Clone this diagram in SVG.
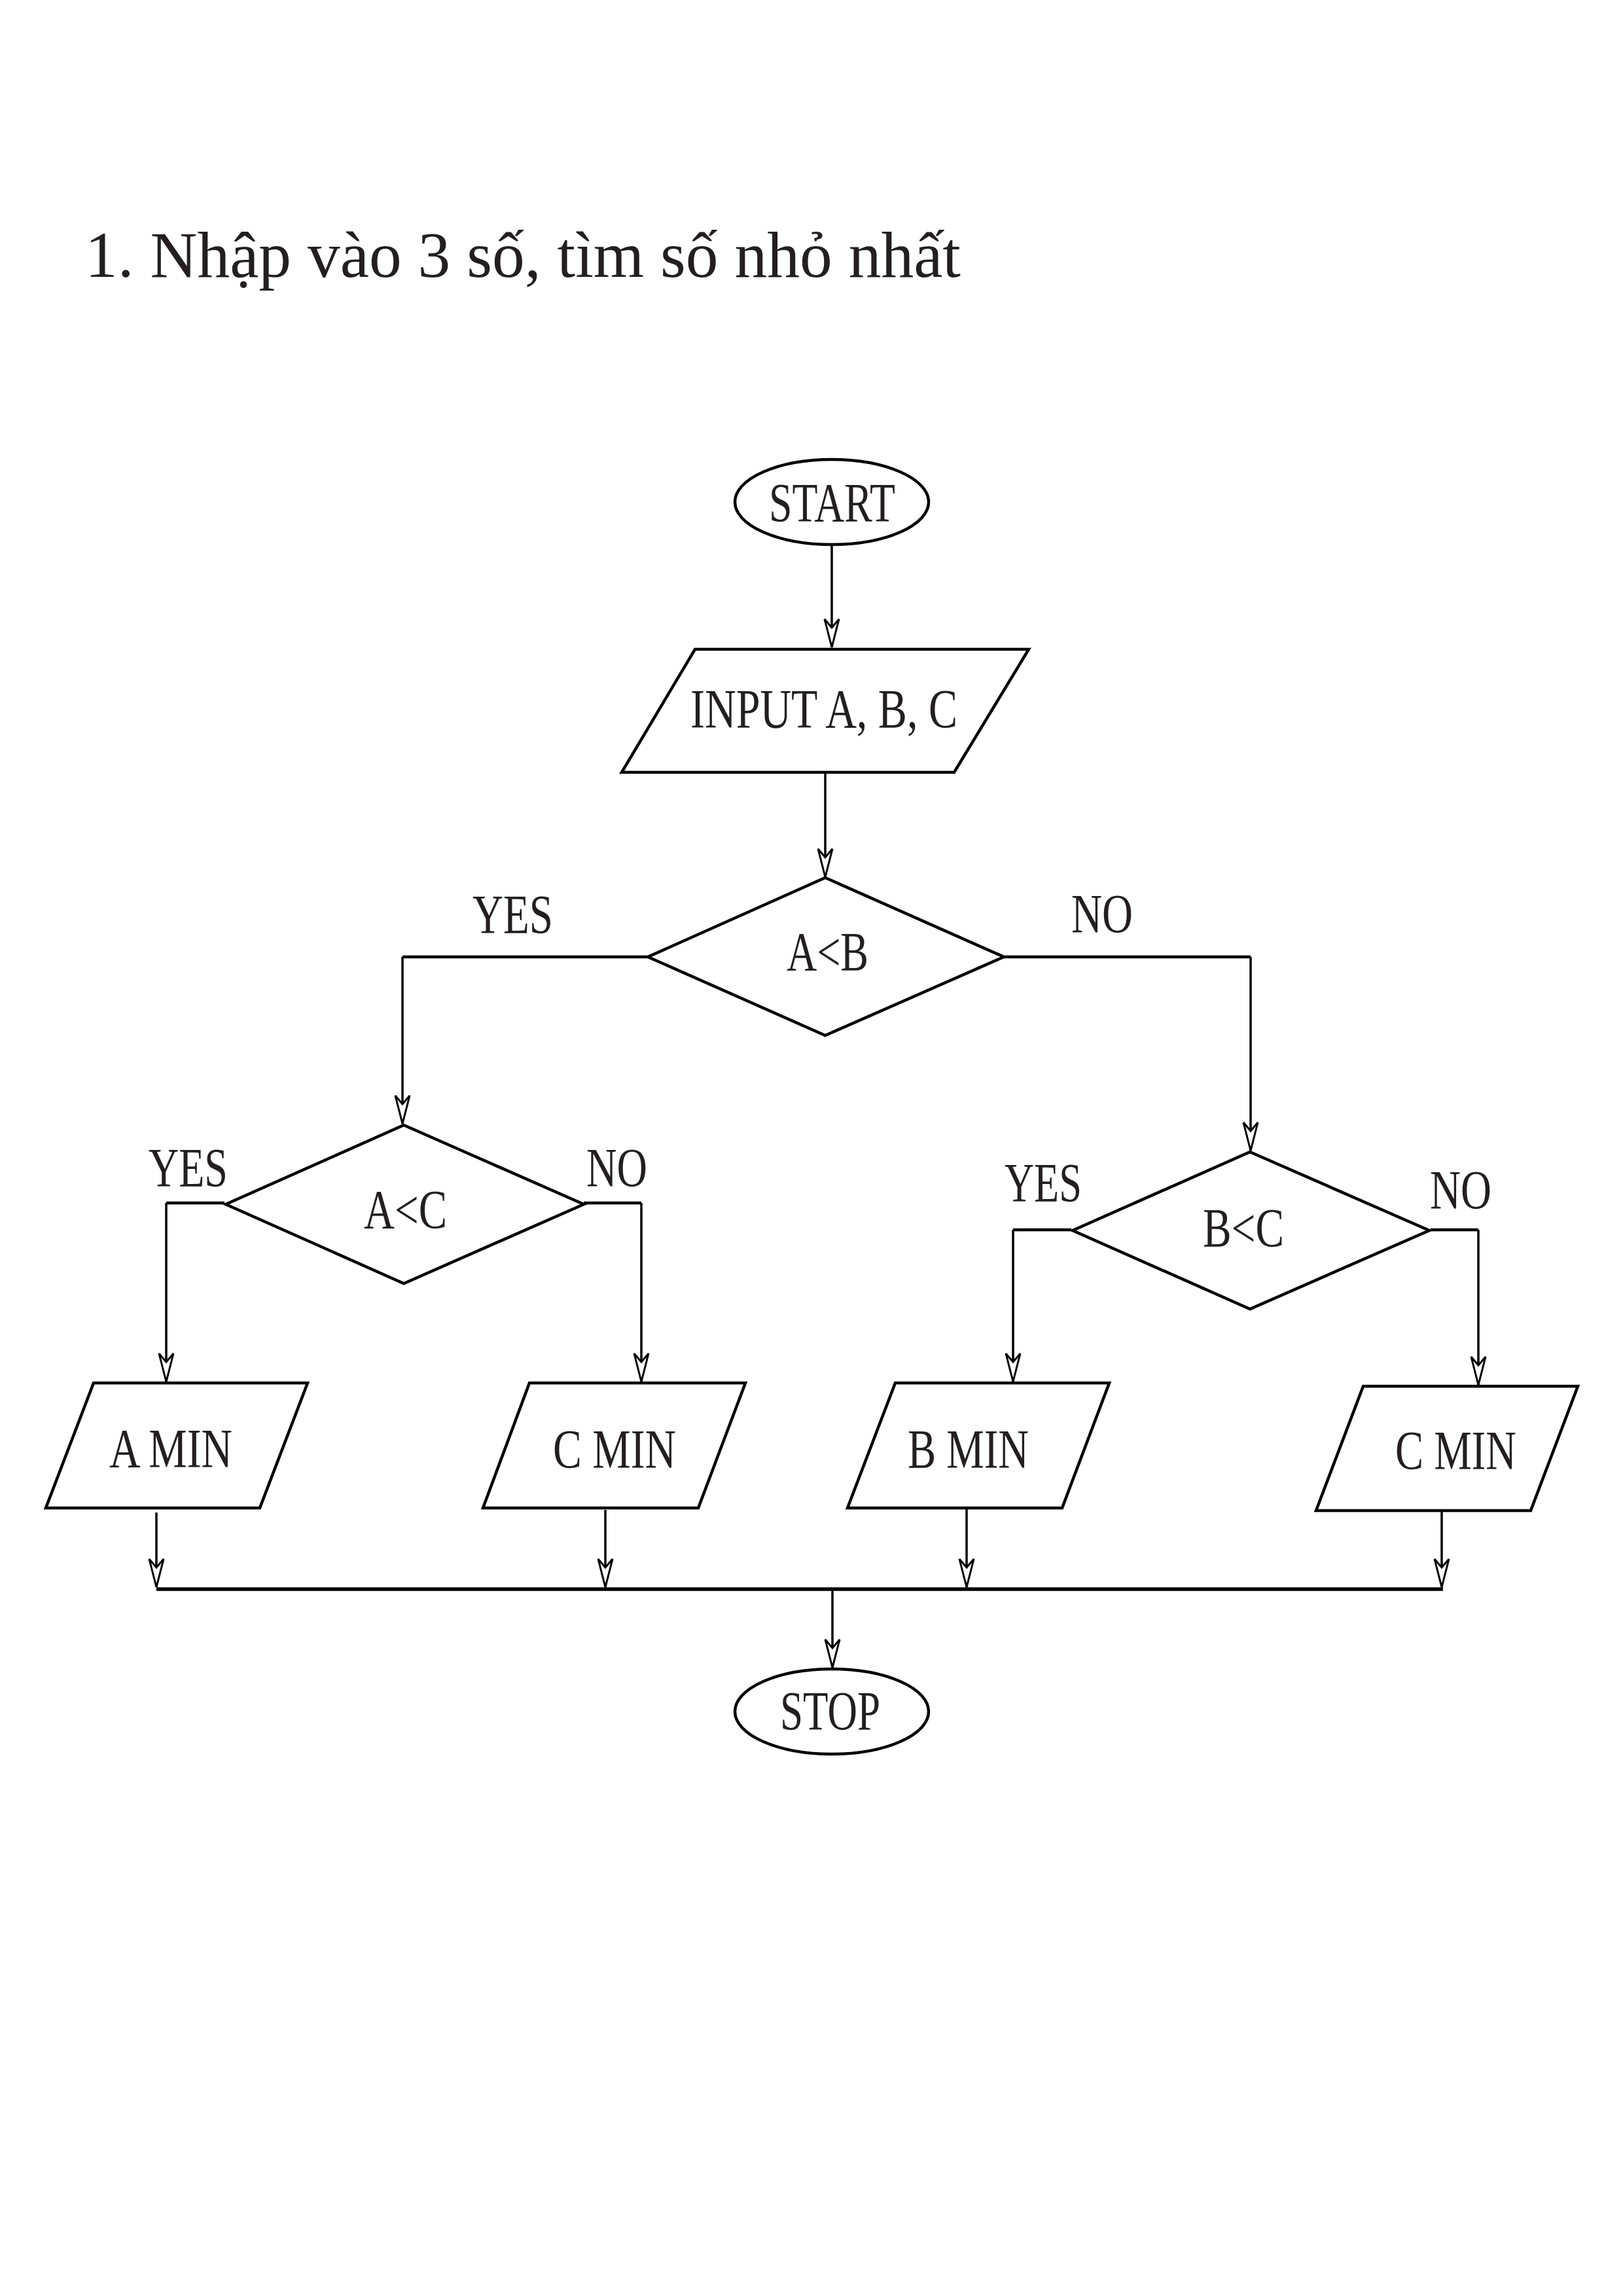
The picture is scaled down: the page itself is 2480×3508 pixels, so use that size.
<svg xmlns="http://www.w3.org/2000/svg" width="2480" height="3508" viewBox="0 0 2480 3508">
<defs>
<style>
.shape{fill:#fff;stroke:#000;stroke-width:4.5;stroke-linejoin:miter}
.ln{fill:none;stroke:#000;stroke-width:3.5}
.hl{fill:none;stroke:#000;stroke-width:4.5}
.bus{fill:none;stroke:#000;stroke-width:5.5}
.t{font-family:"Liberation Serif","Times New Roman",serif;font-size:85px;fill:#231f20}
.title{font-family:"Liberation Serif","Times New Roman",serif;font-size:100px;fill:#231f20}
</style>
<marker id="arr" markerUnits="userSpaceOnUse" orient="auto" overflow="visible" refX="0" refY="0" markerWidth="10" markerHeight="10">
<path d="M0,0 L-43,-11 L-30,0 L-43,11 Z" fill="#fff" stroke="#000" stroke-width="3" stroke-linejoin="miter"/>
</marker>
</defs>
<rect width="2480" height="3508" fill="#fff"/>
<text class="title" x="130" y="423" textLength="1338" lengthAdjust="spacingAndGlyphs">1. Nhập vào 3 số, tìm số nhỏ nhất</text>

<g id="connectors">
<path class="ln" d="M1271,832 L1271,989" marker-end="url(#arr)"/>
<path class="ln" d="M1261,1180 L1261,1340" marker-end="url(#arr)"/>
<path class="hl" d="M990,1462 L615,1462"/>
<path class="ln" d="M615,1462 L615,1717" marker-end="url(#arr)"/>
<path class="hl" d="M1534,1462 L1911,1462"/>
<path class="ln" d="M1911,1462 L1911,1758" marker-end="url(#arr)"/>
<path class="hl" d="M343,1838 L254,1838"/>
<path class="ln" d="M254,1838 L254,2111" marker-end="url(#arr)"/>
<path class="hl" d="M892,1838 L980,1838"/>
<path class="ln" d="M980,1838 L980,2111" marker-end="url(#arr)"/>
<path class="hl" d="M1637,1879 L1548,1879"/>
<path class="ln" d="M1548,1879 L1548,2111" marker-end="url(#arr)"/>
<path class="hl" d="M2186,1879 L2259,1879"/>
<path class="ln" d="M2259,1879 L2259,2116" marker-end="url(#arr)"/>
<path class="ln" d="M239,2311 L239,2425" marker-end="url(#arr)"/>
<path class="ln" d="M925,2307 L925,2425" marker-end="url(#arr)"/>
<path class="ln" d="M1477,2306 L1477,2425" marker-end="url(#arr)"/>
<path class="ln" d="M2203,2310 L2203,2425" marker-end="url(#arr)"/>
<path class="bus" d="M239,2428 L2205,2428"/>
<path class="ln" d="M1272,2428 L1272,2548" marker-end="url(#arr)"/>
<text class="t" x="722" y="1426" textLength="123" lengthAdjust="spacingAndGlyphs">YES</text>
<text class="t" x="1637" y="1425" textLength="94" lengthAdjust="spacingAndGlyphs">NO</text>
<text class="t" x="227" y="1813" textLength="121" lengthAdjust="spacingAndGlyphs">YES</text>
<text class="t" x="896" y="1813" textLength="93" lengthAdjust="spacingAndGlyphs">NO</text>
<text class="t" x="1535" y="1836" textLength="118" lengthAdjust="spacingAndGlyphs">YES</text>
<text class="t" x="2185" y="1847" textLength="94" lengthAdjust="spacingAndGlyphs">NO</text>
</g>

<g id="start">
<ellipse class="shape" cx="1271" cy="767" rx="148" ry="65"/>
<text class="t" x="1175" y="797" textLength="193" lengthAdjust="spacingAndGlyphs">START</text>
</g>
<g id="input">
<polygon class="shape" points="1062,992 1572,992 1458,1180 950,1180"/>
<text class="t" x="1055" y="1112" textLength="408" lengthAdjust="spacingAndGlyphs">INPUT A, B, C</text>
</g>
<g id="dec-ab">
<polygon class="shape" points="1261,1341 1534,1462 1261,1582 990,1462"/>
<text class="t" x="1202" y="1483" textLength="125" lengthAdjust="spacingAndGlyphs">A&lt;B</text>
</g>
<g id="dec-ac">
<polygon class="shape" points="617,1719 892,1840 617,1961 345,1840"/>
<text class="t" x="556" y="1877" textLength="127" lengthAdjust="spacingAndGlyphs">A&lt;C</text>
</g>
<g id="dec-bc">
<polygon class="shape" points="1910,1760 2184,1880 1910,2000 1639,1880"/>
<text class="t" x="1838" y="1905" textLength="124" lengthAdjust="spacingAndGlyphs">B&lt;C</text>
</g>
<g id="amin">
<polygon class="shape" points="143,2113 470,2113 397,2304 70,2304"/>
<text class="t" x="167" y="2242" textLength="188" lengthAdjust="spacingAndGlyphs">A MIN</text>
</g>
<g id="cmin1">
<polygon class="shape" points="809,2113 1139,2113 1067,2304 738,2304"/>
<text class="t" x="845" y="2243" textLength="188" lengthAdjust="spacingAndGlyphs">C MIN</text>
</g>
<g id="bmin">
<polygon class="shape" points="1368,2113 1695,2113 1623,2304 1295,2304"/>
<text class="t" x="1387" y="2243" textLength="185" lengthAdjust="spacingAndGlyphs">B MIN</text>
</g>
<g id="cmin2">
<polygon class="shape" points="2083,2118 2411,2118 2339,2308 2011,2308"/>
<text class="t" x="2132" y="2245" textLength="185" lengthAdjust="spacingAndGlyphs">C MIN</text>
</g>
<g id="stop">
<ellipse class="shape" cx="1271" cy="2615" rx="148" ry="65"/>
<text class="t" x="1192" y="2643" textLength="153" lengthAdjust="spacingAndGlyphs">STOP</text>
</g>
</svg>
